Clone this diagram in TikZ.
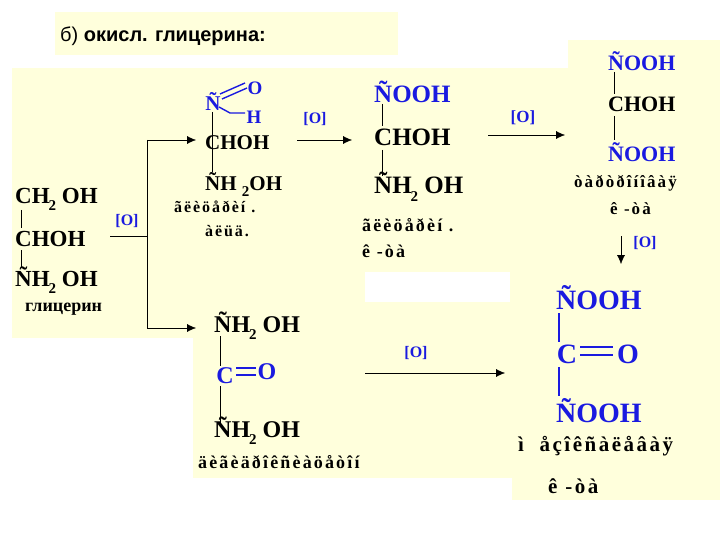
\documentclass[tikz,border=0pt]{standalone}
\usepackage{fontspec}
\setmainfont{Liberation Serif}
\newfontfamily\arial{Liberation Sans}
\newfontfamily\wide[LetterSpace=12]{Liberation Serif}
\usetikzlibrary{arrows.meta}
\definecolor{py}{HTML}{FFFFDC}
\definecolor{bl}{HTML}{1A1AE0}
\newcommand{\sbt}[1]{\raisebox{-0.3em}{\fontsize{15}{15}\selectfont\kern-1pt#1}}
\begin{document}
\begin{tikzpicture}[x=1pt,y=-1pt,
  ch/.style={font=\bfseries\fontsize{23}{23}\selectfont,inner sep=0pt},
  chb/.style={ch,text=bl},
  nm/.style={font=\wide\bfseries\fontsize{17}{17}\selectfont,inner sep=0pt},
  ox/.style={font=\bfseries\fontsize{16}{16}\selectfont,text=bl,inner sep=0pt},
  bond/.style={line width=0.9pt},
  bbond/.style={line width=1.4pt,bl},
  arr/.style={line width=0.4pt,-{Latex[length=9pt,width=8pt]}}]
\useasboundingbox (0,0) rectangle (720,540);
\fill[white] (0,0) rectangle (720,540);
\fill[py] (55,12) rectangle (398,55);
\fill[py] (12,68) rectangle (570,338);
\fill[py] (568,40) rectangle (720,275);
\fill[py] (193,300) rectangle (512,478);
\fill[py] (512,275) rectangle (720,500);
\fill[white] (365,272) rectangle (510,302);
\node[anchor=west,inner sep=0pt,font=\arial\fontsize{20}{20}\selectfont] (t) at (60,36) {б) \textbf{окисл. глицерина:}};
% left
\node[ch,anchor=west] (a1) at (15,199) {CH\sbt{2} OH};
\node[ch,anchor=west] (a2) at (15,239) {CHOH};
\node[ch,anchor=west] (a3) at (15,280) {ÑH\sbt{2} OH};
\node[anchor=west,inner sep=0pt,font=\bfseries\fontsize{18}{18}\selectfont] (a4) at (25,309) {глицерин};
\draw[bond] (21,210) -- (21,228) (21,250) -- (21,268);
\node[ox] (o1) at (127,221) {[O]};
\draw (110,236) coordinate (s0) -- (147,236);
\draw (147,140) coordinate (b1) -- (147,328) coordinate (b2);
\draw[arr] (b1) -- (196,140);
\draw[arr] (b2) -- (196,328);
% top middle
\node[chb,font=\bfseries\fontsize{21}{21}\selectfont] (n1) at (213,101) {Ñ};
\node[chb,font=\bfseries\fontsize{19}{19}\selectfont] (n2) at (255,88) {O};
\node[chb,font=\bfseries\fontsize{19}{19}\selectfont] (n3) at (254,117) {H};
\draw[bbond] (220,94) -- (245,83) (222,99) -- (247,88);
\draw[bbond] (219,107) -- (230,113) -- (245,113);
\draw[bond] (212,112) -- (212,172);
\node[ch,anchor=west,font=\bfseries\fontsize{21}{21}\selectfont] (b2a) at (205,143) {CHOH};
\node[ch,anchor=west,font=\bfseries\fontsize{21}{21}\selectfont] (b2b) at (205,184) {ÑH \raisebox{-6pt}{\fontsize{15}{15}\selectfont 2}OH};
\node[nm,anchor=west,font=\wide\bfseries\fontsize{16}{16}\selectfont] (b2c) at (174,207) {ãëèöåðèí .};
\node[nm,anchor=west,font=\wide\bfseries\fontsize{16}{16}\selectfont] (b2d) at (205,231) {àëüä.};
\node[ox] (o2) at (315,119) {[O]};
\draw[arr] (297,140) coordinate (s2) -- (352,140);
% middle
\node[chb,anchor=west,font=\bfseries\fontsize{25}{25}\selectfont] (m1) at (374,92) {ÑOOH};
\node[ch,anchor=west,font=\bfseries\fontsize{25}{25}\selectfont] (m2) at (374,137) {CHOH};
\node[ch,anchor=west,font=\bfseries\fontsize{25}{25}\selectfont] (m3) at (374,187) {ÑH\sbt{2} OH};
\draw[bond] (382,104) -- (382,126) (382,150) -- (382,176);
\node[nm,anchor=west,font=\wide\bfseries\fontsize{18}{18}\selectfont] (m4) at (362,225) {ãëèöåðèí .};
\node[nm,anchor=west,font=\wide\bfseries\fontsize{18}{18}\selectfont] (m5) at (362,251) {ê -òà};
\node[ox,font=\bfseries\fontsize{17}{17}\selectfont] (o3) at (523,118) {[O]};
\draw[arr] (488,135) coordinate (s3) -- (565,135);
% right top
\node[chb,anchor=west,font=\bfseries\fontsize{22}{22}\selectfont] (r1) at (608,61) {ÑOOH};
\node[ch,anchor=west,font=\bfseries\fontsize{22}{22}\selectfont] (r2) at (608,104) {CHOH};
\node[chb,anchor=west,font=\bfseries\fontsize{22}{22}\selectfont] (r3) at (608,152) {ÑOOH};
\draw[bond] (614,72) -- (614,94) (614,116) -- (614,140);
\node[nm,anchor=west] (r4) at (574,183) {òàðòðîíîâàÿ};
\node[nm,anchor=west] (r5) at (610,209) {ê -òà};
\draw[arr] (621,236) coordinate (s4) -- (621,264);
\node[ox] (o4) at (645,243) {[O]};
% bottom middle
\node[ch,anchor=west,font=\bfseries\fontsize{24}{24}\selectfont] (d1) at (214,326) {ÑH\sbt{2} OH};
\node[chb,font=\bfseries\fontsize{24}{24}\selectfont] (d2) at (225,376) {C};
\node[chb,font=\bfseries\fontsize{24}{24}\selectfont] (d3) at (267,372) {O};
\draw[bbond] (236,368) -- (256,368) (236,375) -- (256,375);
\draw[bond] (220,336) -- (220,366) (220,386) -- (220,424);
\node[ch,anchor=west,font=\bfseries\fontsize{24}{24}\selectfont] (d4) at (214,431) {ÑH\sbt{2} OH};
\node[nm,anchor=west,font=\wide\bfseries\fontsize{18}{18}\selectfont] (d5) at (198,462) {äèãèäðîêñèàöåòîí};
\node[ox] (o5) at (416,353) {[O]};
\draw[arr] (365,373) coordinate (s5) -- (505,373);
% bottom right
\node[chb,anchor=west,font=\bfseries\fontsize{28}{28}\selectfont] (e1) at (556,298) {ÑOOH};
\node[chb,font=\bfseries\fontsize{28}{28}\selectfont] (e2) at (567,354) {C};
\node[chb,font=\bfseries\fontsize{28}{28}\selectfont] (e3) at (628,354) {O};
\draw[bbond] (580,347) -- (613,347) (580,355) -- (613,355);
\draw[bbond] (559,313) -- (559,342) (559,367) -- (559,396);
\node[chb,anchor=west,font=\bfseries\fontsize{28}{28}\selectfont] (e4) at (556,411) {ÑOOH};
\node[nm,anchor=west,font=\wide\bfseries\fontsize{21}{21}\selectfont] (e5) at (518,446) {ì \ åçîêñàëåâàÿ};
\node[nm,anchor=west,font=\wide\bfseries\fontsize{21}{21}\selectfont] (e6) at (548,486) {ê -òà};
\end{tikzpicture}
\end{document}
